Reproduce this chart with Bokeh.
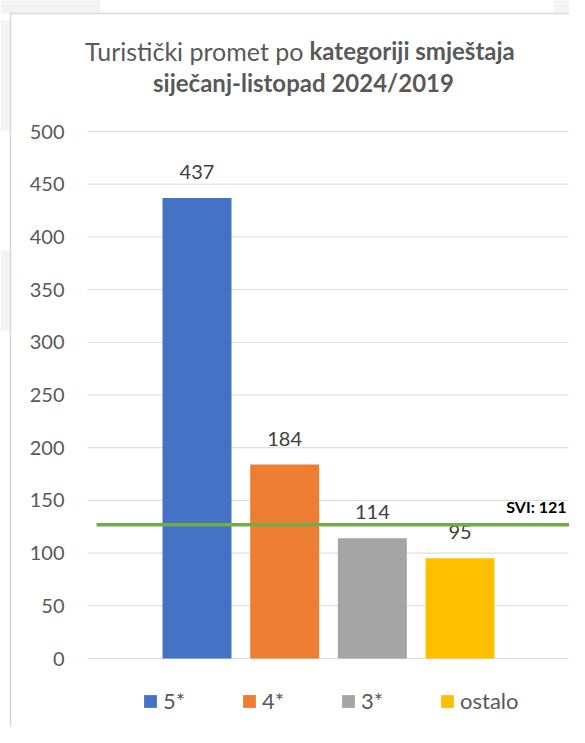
from bokeh.plotting import figure
from bokeh.models import ColumnDataSource, Range1d, Legend, LegendItem
from bokeh.core.properties import value
from bokeh.embed import file_html
from bokeh.resources import INLINE

# ---------------- data ----------------
categories = ["5*", "4*", "3*", "ostalo"]
values = [437, 184, 114, 95]
colors = ["#4472C4", "#ED7D31", "#A5A5A5", "#FFC000"]
y_ticks = [0, 50, 100, 150, 200, 250, 300, 350, 400, 450, 500]
y_tick_labels = [str(t) for t in y_ticks]
svi_level = 127
svi_label = "SVI: 121"
title_regular = "Turistički promet po"
title_bold = "kategoriji smještaja"
title_line2 = "siječanj-listopad 2024/2019"

# ---------------- geometry (canvas pixels, origin top-left) ----------------
W, H = 569, 727
cat_px = 87.67       # pixels between bar centres
x0_px = 196.5        # centre of first bar
y0_px = 658.0        # pixel row of value 0
unit_px = 1.054      # pixels per value unit


def X(px):
    return (px - x0_px) / cat_px


def Y(py):
    return (y0_px - py) / unit_px


FONT = value("Lato")
GRAY = "#595959"

p = figure(width=W, height=H, output_backend="svg", toolbar_location=None,
           x_range=Range1d(X(0), X(W)), y_range=Range1d(Y(H), Y(0)),
           x_axis_location=None, y_axis_location=None, title=None,
           min_border=0, min_border_left=0, min_border_right=0,
           min_border_top=0, min_border_bottom=0)
p.xgrid.visible = False
p.ygrid.visible = False
p.outline_line_color = None
p.background_fill_color = "white"
p.border_fill_color = "white"

# faint background shapes outside the chart box
p.quad(left=[X(0), X(553)], right=[X(100), X(W + 20)],
       top=[Y(-5), Y(-5)], bottom=[Y(13), Y(13)],
       fill_color="#F3F3F3", line_color=None)
p.quad(left=[X(0), X(0)], right=[X(10), X(10)],
       top=[Y(20), Y(250)], bottom=[Y(130), Y(330)],
       fill_color="#F3F3F3", line_color=None)

# outer box border
p.line(x=[X(10), X(10), X(W + 20)], y=[Y(H + 20), Y(13), Y(13)],
       line_color="#D9D9D9", line_width=1.5)

# gridlines
p.segment(x0=[X(87)] * len(y_ticks), y0=y_ticks,
          x1=[X(568)] * len(y_ticks), y1=y_ticks,
          line_color="#D9D9D9", line_width=1)

# y tick labels
p.text(x=[X(64)] * len(y_ticks), y=y_ticks, text=y_tick_labels,
       text_align="right", text_baseline="middle", text_font=FONT,
       text_font_size="20px", text_color=GRAY)

# bars
idx = list(range(len(categories)))
src = ColumnDataSource(dict(x=idx, top=values, color=colors, cat=categories,
                            lab=[str(v) for v in values]))
bars = p.vbar(x="x", top="top", bottom=0, width=69 / cat_px, source=src,
              fill_color="color", line_color=None)

# value labels
p.text(x="x", y="top", text="lab", source=src, text_align="center",
       text_baseline="middle", y_offset=-26, text_font=FONT,
       text_font_size="20px", text_color="#404040")

# SVI line
p.segment(x0=[X(96)], y0=[svi_level], x1=[X(W + 20)], y1=[svi_level],
          line_color="#70AD47", line_width=3.5)
p.text(x=[X(566)], y=[svi_level], text=[svi_label], text_align="right",
       text_baseline="middle", y_offset=-18, text_font=FONT,
       text_font_size="16px", text_font_style="bold", text_color="#000000")

# title
p.text(x=[X(303)], y=[Y(50)], text=[title_regular], text_align="right",
       text_baseline="middle", text_font=FONT, text_font_size="25px",
       text_color=GRAY)
p.text(x=[X(309)], y=[Y(50)], text=[title_bold], text_align="left",
       text_baseline="middle", text_font=FONT, text_font_size="24px",
       text_font_style="bold", text_color=GRAY)
p.text(x=[X(303)], y=[Y(82)], text=[title_line2], text_align="center",
       text_baseline="middle", text_font=FONT, text_font_size="24px",
       text_font_style="bold", text_color=GRAY)

# legend
items = [LegendItem(label=c, renderers=[bars], index=i)
         for i, c in enumerate(categories)]
legend = Legend(items=items, orientation="horizontal", location=(142, 13),
                glyph_width=16, glyph_height=16, label_standoff=5,
                label_width=78, spacing=0, padding=0, margin=0,
                border_line_alpha=0, background_fill_alpha=0,
                label_text_font="Lato", label_text_font_size="22px",
                label_text_color=GRAY)
p.add_layout(legend)

open("out.html", "w").write(file_html(p, INLINE))
